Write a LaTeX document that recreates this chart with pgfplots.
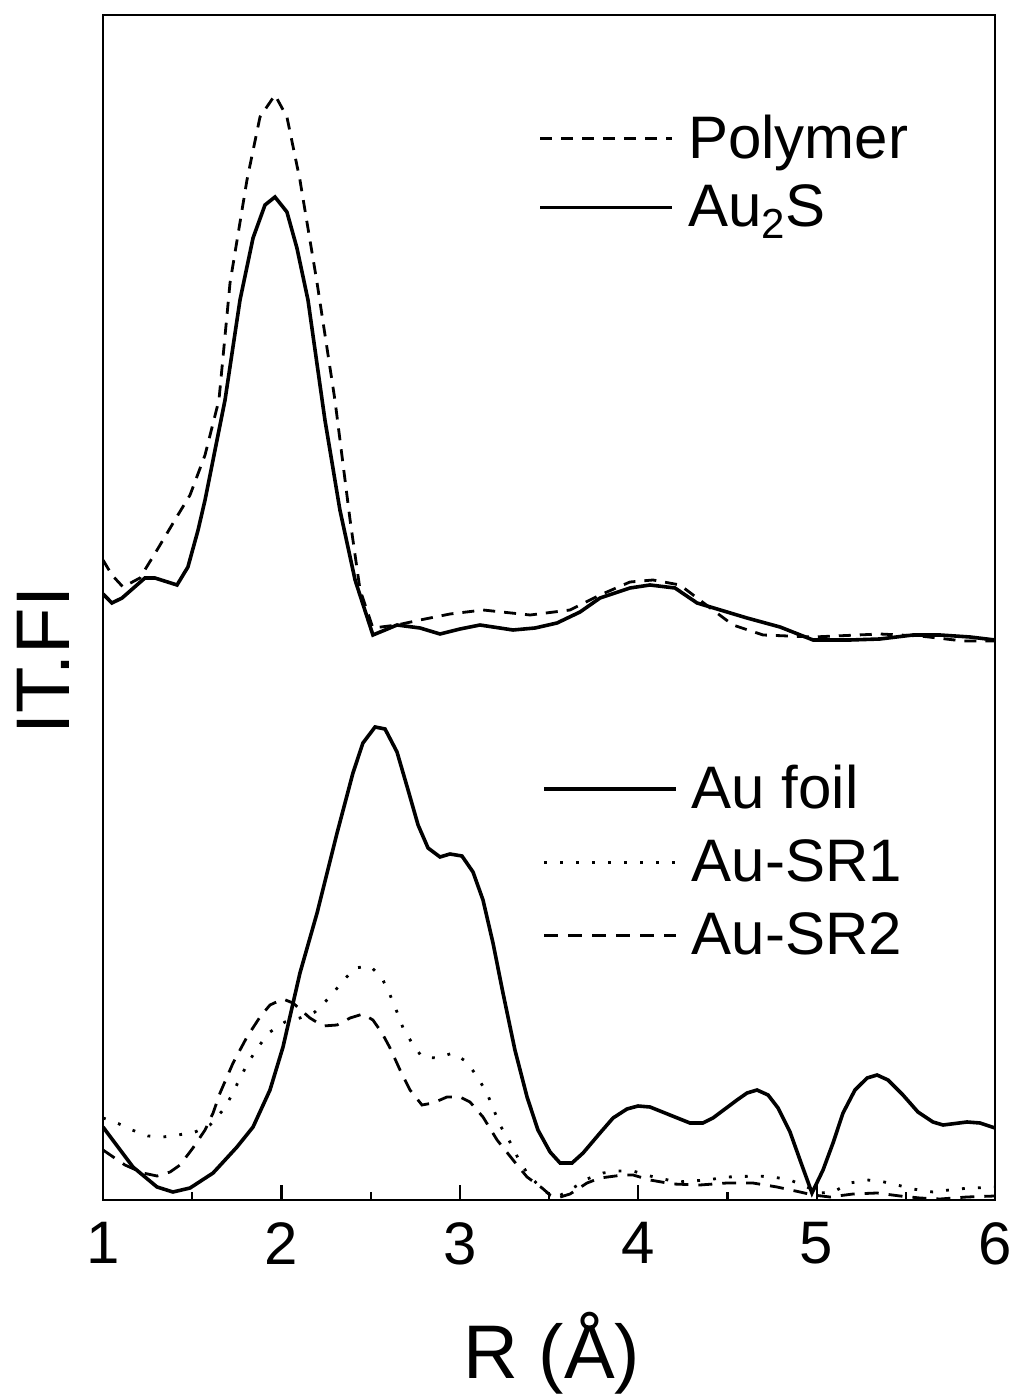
\documentclass[border=0pt]{standalone}
\usepackage{fontspec}
\setmainfont{Liberation Sans}
\usepackage{pgfplots}
\pgfplotsset{compat=1.18}

\begin{document}
\begin{tikzpicture}
\pgfplotsset{
  common/.style={
    width=446pt, height=592.5pt, scale only axis,
    xmin=1, xmax=6, ymin=0, ymax=1185,
    clip=true,
  },
}
\begin{axis}[
  common,
  axis line style={line width=1.4pt},
  xtick={1,2,3,4,5,6},
  minor xtick={1.5,2.5,3.5,4.5,5.5},
  xtick pos=bottom,
  ytick=\empty,
  tick align=inside,
  major tick length=7.5pt,
  minor tick length=4pt,
  every tick/.style={line width=1.1pt, black},
  /pgf/number format/assume math mode=true,
  xticklabel style={font=\fontsize{30}{36}\selectfont, inner sep=0pt, anchor=north, yshift=-11pt},
  xlabel={R (Å)},
  xlabel style={font=\fontsize{38}{44}\selectfont, at={(axis description cs:0.503,-0.1502)}, anchor=base},
  ylabel={IT.FI},
  ylabel style={font=\fontsize{38}{44}\selectfont, at={(axis description cs:-0.037,0.455)}, anchor=base, rotate=0},
  legend style={draw=none, fill=none, font=\fontsize{30}{36}\selectfont,
    at={(rel axis cs:0.4877,0.9156)}, anchor=north west, inner sep=0pt,
    row sep=11.5pt, column sep=7pt, nodes={inner sep=0pt}},
  legend cell align=left,
  legend image code/.code={\draw[#1] (0pt,0pt) -- (66pt,0pt);},
]
\addplot[black, line width=1.4pt, dash pattern=on 6pt off 4.5pt] coordinates {
(1.000,640) (1.050,625) (1.112,613) (1.207,622) (1.303,650) (1.420,685) (1.488,705)
(1.572,745) (1.650,800) (1.712,917) (1.807,1020) (1.880,1083) (1.964,1105) (2.031,1083)
(2.104,1020) (2.200,917) (2.300,800) (2.385,680) (2.441,610) (2.513,572) (2.648,575)
(2.777,580) (2.945,586) (3.130,590) (3.394,585) (3.618,590) (3.786,605) (3.954,618)
(4.083,620) (4.234,615) (4.419,590) (4.531,575) (4.700,565) (4.980,563) (5.355,566)
(5.580,564) (5.821,559) (6.000,559)
};
\addlegendentry{Polymer}
\addplot[black, line width=1.8pt] coordinates {
(1.000,606) (1.050,597) (1.107,602) (1.235,622) (1.291,622) (1.415,615) (1.476,633)
(1.533,670) (1.572,700) (1.684,800) (1.768,900) (1.841,962) (1.908,995) (1.964,1003)
(2.031,988) (2.087,952) (2.149,900) (2.244,780) (2.328,690) (2.413,620) (2.513,565)
(2.581,570) (2.648,575) (2.777,572) (2.889,566) (3.001,571) (3.113,575) (3.298,570)
(3.422,572) (3.545,577) (3.674,588) (3.786,602) (3.954,612) (4.066,615) (4.206,612)
(4.330,597) (4.610,582) (4.795,573) (4.980,560) (5.187,560) (5.355,561) (5.540,565)
(5.692,565) (5.860,563) (6.000,560)
};
\addlegendentry{Au\textsubscript{2}S}
\end{axis}

\begin{axis}[
  common,
  hide axis,
  legend style={draw=none, fill=none, font=\fontsize{30}{36}\selectfont,
    at={(rel axis cs:0.492,0.367)}, anchor=north west, inner sep=0pt,
    row sep=14pt, column sep=7pt, nodes={inner sep=0pt}},
  legend cell align=left,
  legend image code/.code={\draw[#1] (0pt,0pt) -- (66pt,0pt);},
]
\addplot[black, line width=1.8pt] coordinates {
(1.000,73) (1.168,33) (1.303,13) (1.392,8) (1.488,12) (1.617,27) (1.751,53) (1.841,73)
(1.936,110) (2.009,153) (2.104,227) (2.200,287) (2.312,367) (2.401,427) (2.457,457)
(2.525,473) (2.581,471) (2.648,448) (2.710,410) (2.766,375) (2.822,352) (2.889,343)
(2.945,346) (3.012,344) (3.074,328) (3.130,300) (3.186,257) (3.242,207) (3.309,150)
(3.377,103) (3.438,70) (3.506,48) (3.562,37) (3.629,37) (3.691,47) (3.786,67) (3.859,82)
(3.937,91) (3.999,94) (4.066,93) (4.178,85) (4.290,77) (4.363,77) (4.419,82) (4.554,100)
(4.610,107) (4.666,110) (4.728,105) (4.784,92) (4.851,68) (4.907,40) (4.974,7) (5.036,30)
(5.092,57) (5.148,87) (5.215,110) (5.283,122) (5.339,125) (5.400,120) (5.484,105)
(5.568,88) (5.652,78) (5.709,75) (5.843,78) (5.916,77) (6.000,72)
};
\addlegendentry{Au foil}
\addplot[black, line width=1.4pt, dash pattern=on 1.4pt off 6.6pt] coordinates {
(1.000,82) (1.067,78) (1.163,70) (1.252,64) (1.336,63) (1.420,65) (1.516,68) (1.600,75)
(1.673,90) (1.723,105) (1.768,122) (1.813,137) (1.869,153) (1.936,168) (2.020,178)
(2.104,182) (2.188,188) (2.272,203) (2.340,218) (2.413,232) (2.497,234) (2.564,222)
(2.609,205) (2.648,188) (2.682,172) (2.732,157) (2.788,143) (2.872,142) (2.962,147)
(3.040,138) (3.102,122) (3.152,107) (3.225,75) (3.281,58) (3.326,42) (3.377,27)
(3.450,13) (3.506,5) (3.545,3) (3.618,10) (3.713,21) (3.803,27) (3.887,29) (3.971,29)
(4.066,24) (4.217,18) (4.386,20) (4.498,23) (4.666,24) (4.756,23) (4.851,20) (4.946,13)
(5.019,7) (5.092,8) (5.187,17) (5.283,20) (5.355,19) (5.451,15) (5.540,11) (5.652,8)
(5.787,11) (5.877,12) (6.000,13)
};
\addlegendentry{Au-SR1}
\addplot[black, line width=1.4pt, dash pattern=on 7pt off 5pt] coordinates {
(1.000,50) (1.123,35) (1.224,27) (1.303,24) (1.376,28) (1.432,35) (1.504,52) (1.572,70)
(1.617,87) (1.656,107) (1.729,137) (1.807,163) (1.880,183) (1.936,195) (2.009,201)
(2.065,197) (2.160,182) (2.233,174) (2.312,175) (2.385,182) (2.457,186) (2.513,180)
(2.564,167) (2.609,152) (2.665,130) (2.721,110) (2.788,95) (2.850,97) (2.928,103)
(3.001,103) (3.057,98) (3.130,83) (3.209,60) (3.321,35) (3.377,23) (3.461,12) (3.506,5)
(3.545,2) (3.618,6) (3.713,17) (3.786,22) (3.915,25) (3.971,25) (4.066,20) (4.195,16)
(4.346,15) (4.498,17) (4.643,17) (4.778,13) (4.907,8) (4.980,5) (5.075,3) (5.204,6)
(5.339,7) (5.467,4) (5.580,2) (5.692,1) (5.843,3) (6.000,4)
};
\addlegendentry{Au-SR2}
\end{axis}
\pgfresetboundingbox
\path (-51.5pt,-98pt) rectangle (455.5pt,600pt);
\end{tikzpicture}
\end{document}
